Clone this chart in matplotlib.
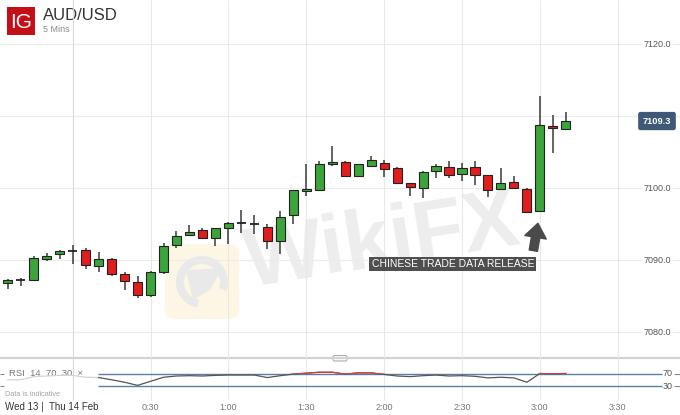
import numpy as np
import matplotlib.pyplot as plt
from matplotlib.patches import Rectangle, FancyBboxPatch, Wedge, Polygon
from matplotlib.transforms import blended_transform_factory

plt.rcParams['font.family'] = ['Liberation Sans', 'DejaVu Sans']

# 5 min bars, Wed 13 23:35 -> Thu 14 03:10 (bar index 0 = 00:00)
bar_idx = np.arange(-5, 39)
opens = [7086.8, 7087.2, 7087.2, 7090.2, 7090.8, 7091.25, 7091.4, 7089.2, 7090.2, 7088.0,
         7087.0, 7085.1, 7088.4, 7092.1, 7093.5, 7094.1, 7093.0, 7094.4, 7095.1, 7095.0,
         7094.6, 7092.6, 7096.2, 7099.6, 7099.7, 7103.3, 7103.65, 7101.6, 7103.05, 7103.5,
         7102.8, 7100.65, 7100.0, 7102.3, 7102.9, 7101.9, 7102.95, 7101.8, 7099.8, 7100.9,
         7099.9, 7096.8, 7108.6, 7108.15]
highs = [7087.3, 7087.5, 7090.5, 7091.0, 7091.4, 7092.1, 7091.7, 7091.1, 7090.3, 7088.4,
         7087.8, 7088.5, 7092.3, 7094.0, 7094.8, 7094.4, 7094.4, 7095.3, 7097.0, 7096.3,
         7095.0, 7096.8, 7099.7, 7103.3, 7103.75, 7105.8, 7103.7, 7103.3, 7104.5, 7103.9,
         7102.9, 7100.65, 7102.4, 7103.3, 7103.75, 7103.5, 7103.75, 7101.8, 7102.8, 7101.6,
         7100.05, 7112.8, 7110.1, 7110.55]
lows = [7086.0, 7086.4, 7087.1, 7089.9, 7090.1, 7089.4, 7088.7, 7088.3, 7087.8, 7085.9,
        7084.7, 7084.8, 7088.1, 7091.6, 7093.5, 7093.0, 7092.0, 7092.2, 7093.8, 7093.6,
        7091.5, 7090.8, 7095.0, 7098.9, 7099.7, 7103.1, 7101.6, 7101.6, 7102.9, 7101.5,
        7100.7, 7098.9, 7098.65, 7101.4, 7101.4, 7101.0, 7100.4, 7098.75, 7099.8, 7100.0,
        7096.7, 7096.6, 7104.8, 7108.15]
closes = [7087.2, 7087.2, 7090.3, 7090.6, 7091.2, 7091.25, 7089.3, 7090.1, 7088.1, 7087.1,
          7085.2, 7088.3, 7092.0, 7093.4, 7093.9, 7093.1, 7094.4, 7095.2, 7095.1, 7095.0,
          7092.6, 7096.0, 7099.7, 7099.9, 7103.4, 7103.6, 7101.7, 7103.3, 7103.9, 7102.6,
          7100.7, 7100.2, 7102.2, 7103.05, 7101.75, 7102.8, 7101.8, 7099.7, 7100.7, 7100.0,
          7096.7, 7108.7, 7108.3, 7109.3]
rsi = [50, 50, 60, 62, 64, 64, 58, 57, 50, 42,
       32, 45, 58, 62, 63, 62, 64, 65, 65, 65,
       57, 63, 68, 71, 74, 74, 68, 72, 72, 67,
       62, 60, 63, 65, 62, 63, 61, 56, 58, 56,
       42, 70, 69, 70]

price_ticks = [7080, 7090, 7100, 7110, 7120]
grid_idx = [0, 6, 12, 18, 24, 30, 36, 42]
time_ticks = [6, 12, 18, 24, 30, 36, 42]
time_labels = ['0:30', '1:00', '1:30', '2:00', '2:30', '3:00', '3:30']
release_idx = 36
last_price = closes[-1]

W, H = 680, 415
fig = plt.figure(figsize=(6.8, 4.15), dpi=100)
fig.patch.set_facecolor('white')

# background layer in pixel coords
bg = fig.add_axes([0, 0, 1, 1], zorder=-1)
bg.set_xlim(0, W)
bg.set_ylim(H, 0)
bg.axis('off')

ax = fig.add_axes([0, 1 - 355 / H, 1, 355 / H])
ax.set_xlim(-5.6, 46.8)
ax.set_ylim(7100 + (188 - 355) / 7.2, 7100 + 188 / 7.2)
ax.axis('off')
ax.patch.set_alpha(0)

rax = fig.add_axes([0, 1 - 400 / H, 1, 38 / H])
rax.set_xlim(ax.get_xlim())
rax.set_ylim(-14.8, 106.8)
rax.axis('off')
rax.patch.set_alpha(0)

px = bg.transData
x_data_y_px = blended_transform_factory(ax.transData, px)
x_px_y_data = blended_transform_factory(px, ax.transData)
x_px_y_rsi = blended_transform_factory(px, rax.transData)

# watermark
bg.add_patch(FancyBboxPatch((165, 244), 74, 75, boxstyle='round,pad=0,rounding_size=10',
                            fc='#fdf6e4', ec='none'))
bg.add_patch(Wedge((202, 282), 26, 100, 20, width=8, fc='#e9e9e9', ec='none'))
bg.add_patch(Polygon([(186, 270), (222, 268), (210, 290), (193, 300)], closed=True,
                     fc='#e9e9e9', ec='none'))
bg.text(383, 244, 'WikiFX', fontsize=60, fontweight='bold', color='#ededed',
        rotation=9, ha='center', va='center')

# grid
ax.hlines(price_ticks, -6, 47, color='#ececec', lw=0.8, zorder=1)
ax.vlines(grid_idx, 0, 400, transform=x_data_y_px, color='#e8e8e8', lw=0.8,
          zorder=1, clip_on=False)
ax.vlines([0], 0, 400, transform=x_data_y_px, color='#d9d9d9', lw=0.8,
          zorder=1, clip_on=False)

# candles
for x, o, h, l, c in zip(bar_idx, opens, highs, lows, closes):
    ax.vlines(x, l, h, color='#3a3a3a', lw=1.1, zorder=3)
    if abs(c - o) < 0.15:
        ax.hlines(c, x - 0.36, x + 0.36, color='#222', lw=1.3, zorder=4)
    else:
        col = '#3ba53b' if c > o else '#e21d1d'
        ax.add_patch(Rectangle((x - 0.35, min(o, c)), 0.7, abs(c - o),
                               fc=col, ec='#222', lw=0.8, zorder=4))

# price axis labels (the one under the last-price box is hidden)
for p in price_ticks:
    if abs(p - last_price) < 2:
        continue
    ax.text(657, p, f'{p:.1f}', transform=x_px_y_data, ha='center', va='center',
            fontsize=6.5, color='#555',
            bbox=dict(boxstyle='square,pad=0.25', fc='white', ec='none'), zorder=5)
ax.text(657, last_price, f'{last_price:.1f}', transform=x_px_y_data, ha='center',
        va='center', fontsize=6.7, color='white', fontweight='bold',
        bbox=dict(boxstyle='round,pad=0.5,rounding_size=0.25', fc='#3f5878', ec='none'),
        zorder=6)

# annotation
low_rel = lows[list(bar_idx).index(release_idx)]
ax.text(release_idx - 0.45, low_rel - 7.1, 'CHINESE TRADE DATA RELEASE', ha='right',
        va='center', fontsize=7.5, color='white',
        bbox=dict(boxstyle='square,pad=0.2', fc='#4f4f4f', ec='none'), zorder=6)
ax.annotate('', xy=(release_idx - 0.15, low_rel - 1.5),
            xytext=(release_idx - 0.5, low_rel - 5.3),
            arrowprops=dict(arrowstyle='simple,head_length=0.85,head_width=1.3,tail_width=0.5',
                            mutation_scale=12, color='#4a4a4a', shrinkA=0, shrinkB=0),
            zorder=6)

# header
bg.add_patch(Rectangle((7, 7), 28, 28, fc='#c40f16', ec='none'))
bg.text(21, 22, 'IG', fontsize=15, color='white', ha='center', va='center')
bg.text(43, 15, 'AUD/USD', fontsize=12, color='#333', ha='left', va='center')
bg.text(43, 30, '5 Mins', fontsize=6.5, color='#888', ha='left', va='center')

# panel divider
bg.hlines(358, 0, W, color='#d2d2d2', lw=1.6)
bg.add_patch(FancyBboxPatch((333, 355.5), 14, 5.5, boxstyle='round,pad=0,rounding_size=2',
                            fc='white', ec='#aaa', lw=0.8))

# RSI panel
rax.hlines([70, 30], 98, 662, transform=x_px_y_rsi, color='#5a7ea8', lw=1.0, zorder=2)
rax.hlines([70, 30], 674, 680, transform=x_px_y_rsi, color='#888', lw=0.8)
rax.hlines([70, 30], 0, 4, transform=x_px_y_rsi, color='#888', lw=0.8)
for lv in [70, 30]:
    rax.text(668, lv, str(lv), transform=x_px_y_rsi, ha='center', va='center',
             fontsize=6.5, color='#555')
rax.plot(bar_idx[:8], rsi[:8], color='#d4d4d4', lw=0.9, zorder=3)
rax.plot(bar_idx[7:], rsi[7:], color='#555', lw=0.9, zorder=3)
red, = rax.plot(bar_idx[7:], rsi[7:], color='#e03a3a', lw=0.9, zorder=4)
red.set_clip_path(Rectangle((-10, 70), 70, 100, transform=rax.transData))
bg.text(9, 373, 'RSI  14  70  30  \u00d7', fontsize=6.8, color='#777', ha='left', va='center')
bg.text(5, 394, 'Data is indicative', fontsize=5.3, color='#a5a5a5', ha='left', va='center')

# time axis
bg.text(5, 407, 'Wed 13 |  Thu 14 Feb', fontsize=7, color='#333', ha='left', va='center')
for t, lab in zip(time_ticks, time_labels):
    ax.text(t, 407, lab, transform=x_data_y_px, ha='center', va='center',
            fontsize=6.5, color='#777')

fig.savefig('out.png', dpi=100, facecolor='white')
